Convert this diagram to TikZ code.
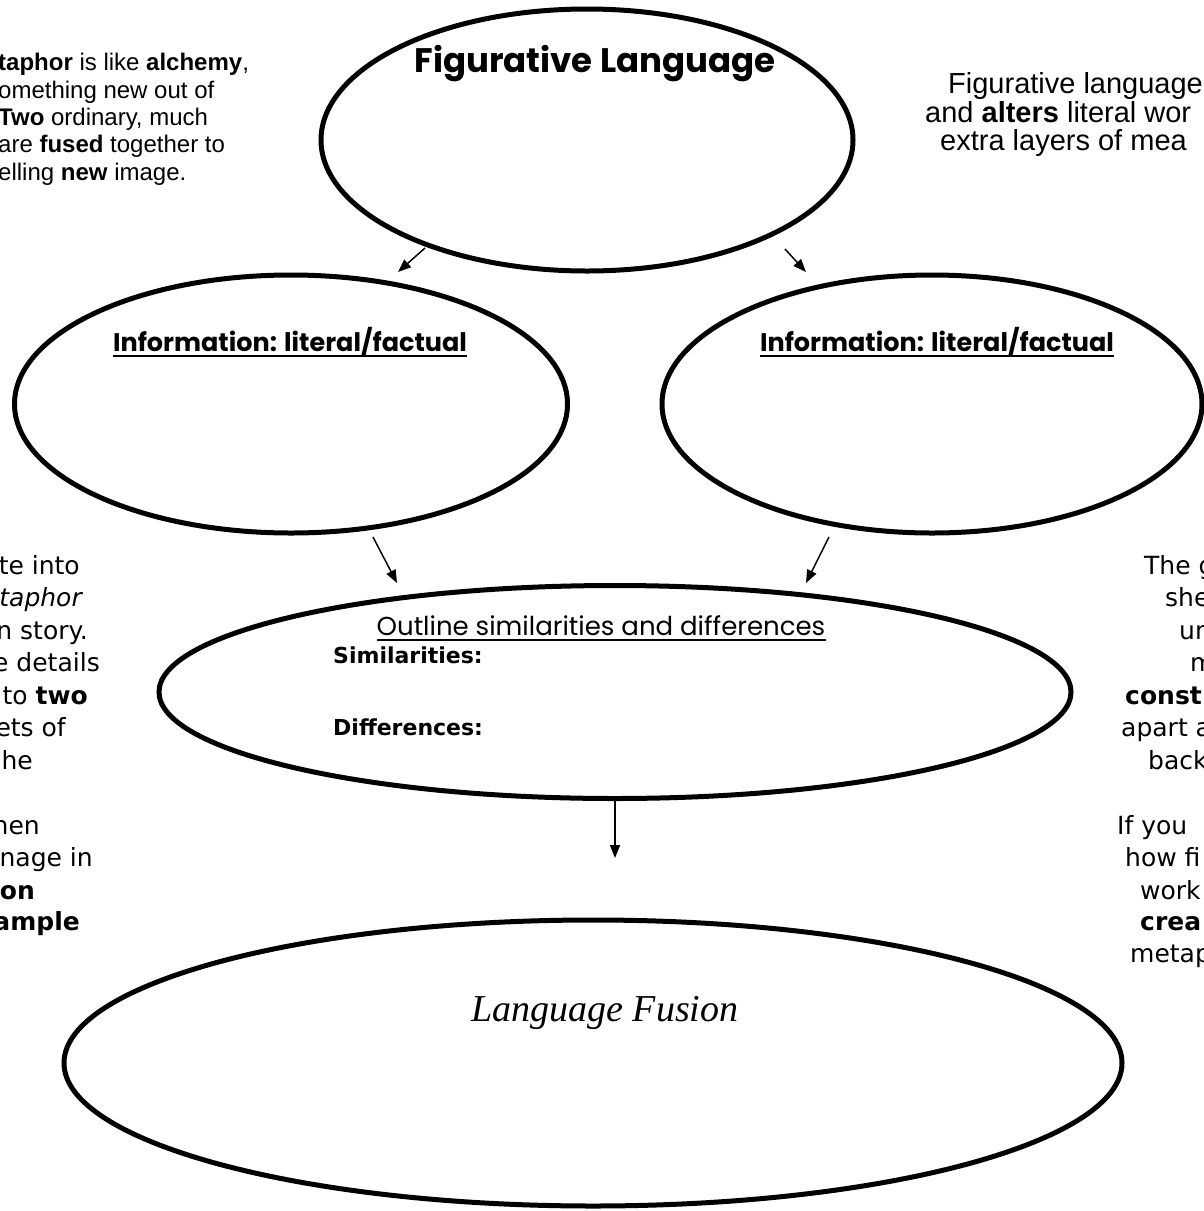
\documentclass[tikz,border=0pt]{standalone}
\usepackage{fontspec}
\setmainfont{Liberation Sans}
\newfontfamily\verd{DejaVu Sans}
\newfontfamily\comic{Poppins}
\newfontfamily\scriptf{Liberation Serif}
\usetikzlibrary{shapes.geometric,arrows.meta}
\begin{document}
\begin{tikzpicture}[x=1pt,y=-1pt,
  oval/.style={ellipse,draw,line width=5pt,inner sep=0pt},
  conn/.style={line width=1.5pt,-{Triangle[length=13pt,width=10pt]}},
  frk/.style={font=\fontsize{24}{28}\selectfont,inner sep=0pt,anchor=base west},
  frkr/.style={font=\fontsize{29}{30}\selectfont,inner sep=0pt,anchor=base west},
  vl/.style={font=\verd\fontsize{25}{32}\selectfont,inner sep=0pt,anchor=base east},
  vr/.style={font=\verd\fontsize{25}{32}\selectfont,inner sep=0pt,anchor=base west},
  titlef/.style={font=\comic\bfseries\fontsize{34}{40}\selectfont,inner sep=0pt,anchor=base},
  infof/.style={font=\comic\bfseries\fontsize{25.5}{30}\selectfont,inner sep=0pt,anchor=base},
  outf/.style={font=\comic\fontsize{26}{30}\selectfont,inner sep=0pt,anchor=base},
  vb/.style={font=\verd\bfseries\fontsize{22}{26}\selectfont,inner sep=0pt,anchor=base west},
  fusf/.style={font=\scriptf\itshape\fontsize{38}{44}\selectfont,inner sep=0pt,anchor=base},
  uline/.style={line width=1.8pt}
]
\useasboundingbox (0,0) rectangle (1203,1211);
\fill[white] (0,0) rectangle (1203,1211);

% ellipses
\node[oval,minimum width=532pt,minimum height=262pt] (fig) at (587,140) {};
\node[oval,minimum width=553pt,minimum height=258pt] (infoL) at (291,404) {};
\node[oval,minimum width=540pt,minimum height=258pt] (infoR) at (932,404) {};
\node[oval,minimum width=912pt,minimum height=213pt] (comp) at (615,692) {};
\node[oval,minimum width=1058pt,minimum height=286pt] (fusion) at (593,1063) {};

% titles inside ellipses
\node[titlef] (figT) at (595,72) {Figurative Language};
\node[infof] (infoLT) at (290,351) {Information: literal/factual};
\node[infof] (infoRT) at (937,351) {Information: literal/factual};
\draw[uline] ([yshift=-5pt]infoLT.base west) -- ([yshift=-5pt]infoLT.base east);
\draw[uline] ([yshift=-5pt]infoRT.base west) -- ([yshift=-5pt]infoRT.base east);
\node[outf] (outT) at (601,635) {Outline similarities and differences};
\draw[uline] ([yshift=-5pt]outT.base west) -- ([yshift=-5pt]outT.base east);
\node[vb] (sim) at (333,663) {Similarities:};
\node[vb] (dif) at (333,735) {Differences:};
\node[fusf] (fusT) at (605,1021) {Language Fusion};

% connectors
\coordinate (a1s) at (425,248); \coordinate (a1e) at (398,272);
\coordinate (a2s) at (785,249); \coordinate (a2e) at (806,272);
\coordinate (a3s) at (373,537); \coordinate (a3e) at (397,583);
\coordinate (a4s) at (829,537); \coordinate (a4e) at (806,583);
\coordinate (a5s) at (615,799); \coordinate (a5e) at (615,858);
\draw[conn] (a1s) -- (a1e);
\draw[conn] (a2s) -- (a2e);
\draw[conn] (a3s) -- (a3e);
\draw[conn] (a4s) -- (a4e);
\draw[conn] (a5s) -- (a5e);

% top-left text (cut by the page edge)
\node[frk] (tl1) at (-2,70) {\textbf{taphor} is like \textbf{alchemy},};
\node[frk] (tl2) at (-2,98) {omething new out of};
\node[frk] (tl3) at (-2,125) {\textbf{Two} ordinary, much};
\node[frk] (tl4) at (-2,152) {are \textbf{fused} together to};
\node[frk] (tl5) at (-2,180) {elling \textbf{new} image.};

% top-right text (cut by the page edge)
\node[frkr] (tr1) at (948,93) {Figurative language};
\node[frkr] (tr2) at (925,122) {and \textbf{alters} literal wor};
\node[frkr] (tr3) at (940,150) {extra layers of mea};

% left middle text
\node[vl] (l1) at (80,574) {te into};
\node[vl] (l2) at (82,606) {\itshape taphor};
\node[vl] (l3) at (88,639) {n story.};
\node[vl] (l4) at (100,671) {e details};
\node[vl] (l5) at (88,704) {to \textbf{two}};
\node[vl] (l6) at (66,736) {ets of};
\node[vl] (l7) at (33,769) {he};
\node[vl] (l8) at (40,834) {hen};
\node[vl] (l9) at (93,866) {nage in};
\node[vl] (l10) at (35,899) {\textbf{on}};
\node[vl] (l11) at (80,930) {\textbf{ample}};

% right middle text
\node[vr] (r1) at (1144,574) {The g};
\node[vr] (r2) at (1165,606) {she};
\node[vr] (r3) at (1179,639) {un};
\node[vr] (r4) at (1190,671) {m};
\node[vr] (r5) at (1125,704) {\textbf{const}};
\node[vr] (r6) at (1121,736) {apart a};
\node[vr] (r7) at (1148,769) {back};
\node[vr] (r8) at (1117,834) {If you};
\node[vr] (r9) at (1125,866) {how fi};
\node[vr] (r10) at (1140,899) {work};
\node[vr] (r11) at (1140,930) {\textbf{crea}};
\node[vr] (r12) at (1130,962) {metap};
\end{tikzpicture}
\end{document}
